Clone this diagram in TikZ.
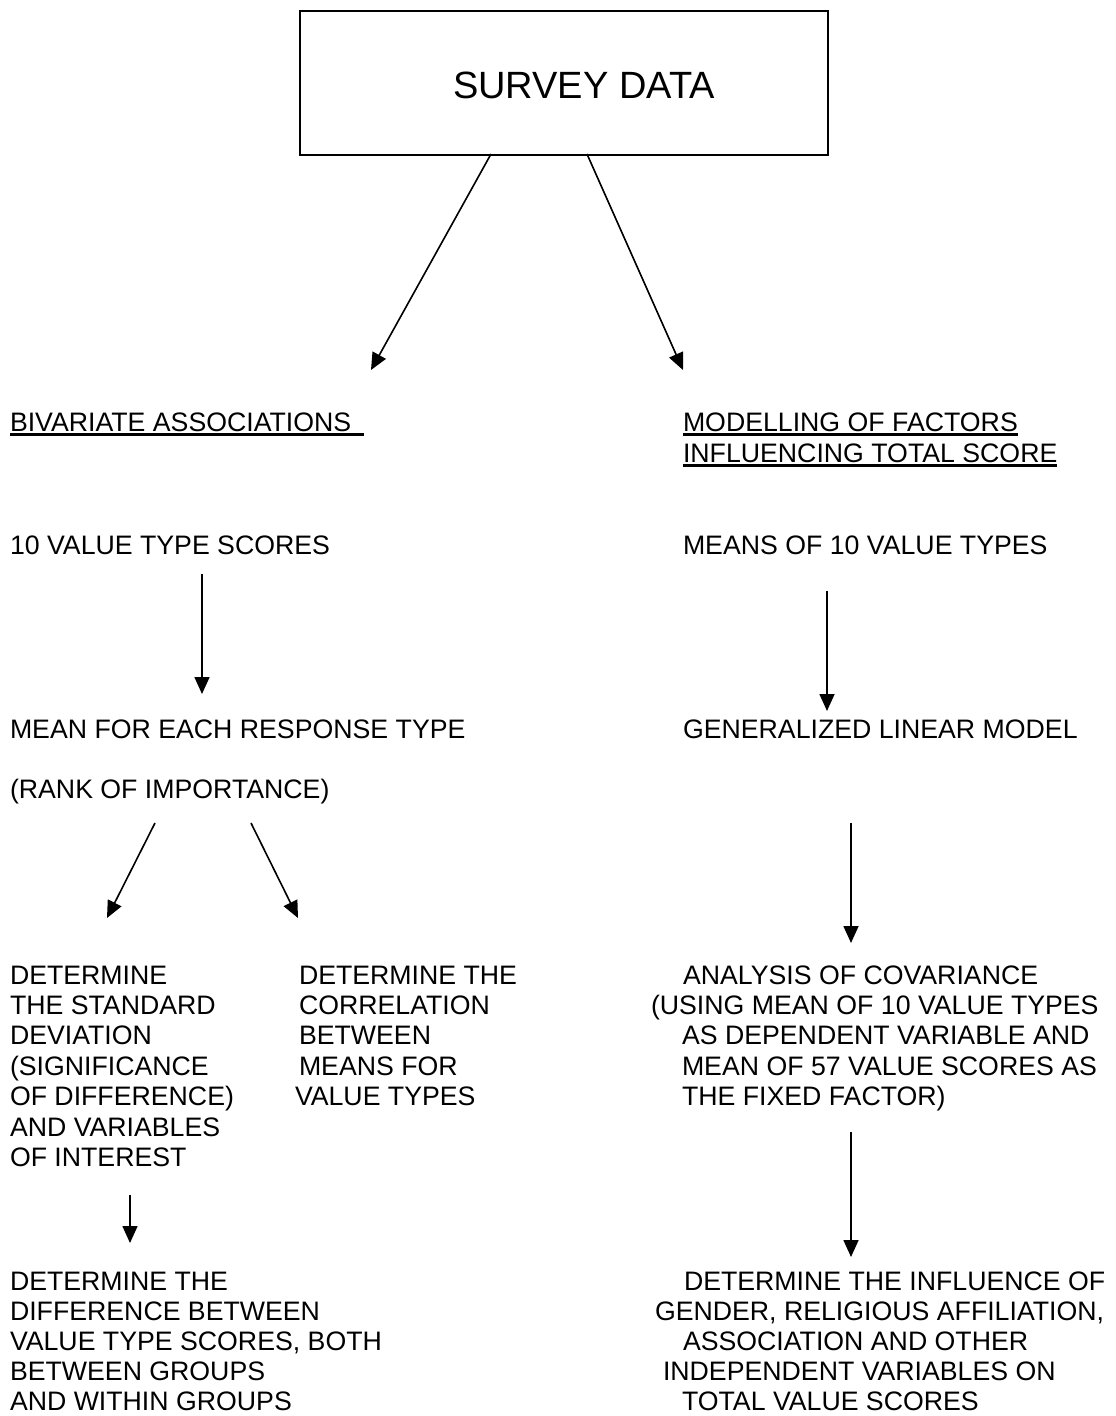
\documentclass[tikz,border=0pt]{standalone}
\usepackage{fontspec}
\setmainfont{Liberation Sans}
\usetikzlibrary{arrows.meta}
\begin{document}
\begin{tikzpicture}[x=1pt,y=-1pt,
  txt/.style={anchor=base west,inner sep=0pt,outer sep=0pt,font=\fontsize{26.7}{30.3}\selectfont},
  bigtxt/.style={anchor=base west,inner sep=0pt,outer sep=0pt,font=\fontsize{38}{42}\selectfont},
  arr/.style={line width=1.6pt,-{Triangle[length=17pt,width=15pt]}},
  uline/.style={line width=2.3pt}]
\useasboundingbox (0,0) rectangle (1116,1416);
\fill[white] (0,0) rectangle (1116,1416);
% top box
\node[draw,line width=1.6pt,minimum width=528pt,minimum height=144pt,anchor=north west,inner sep=0pt] (box) at (299,10) {};
\node[bigtxt] (survey) at (453,98) {SURVEY DATA};
% headings
\node[txt] (bv) at (10,431) {BIVARIATE ASSOCIATIONS\kern13pt};
\node[txt] (mod1) at (683,431) {MODELLING OF FACTORS};
\node[txt] (mod2) at (683,462) {INFLUENCING TOTAL SCORE};
\draw[uline] ([yshift=-3.5pt]bv.base west) -- ([yshift=-3.5pt]bv.base east);
\draw[uline] ([yshift=-3.5pt]mod1.base west) -- ([yshift=-3.5pt]mod1.base east);
\draw[uline] ([yshift=-3.5pt]mod2.base west) -- ([yshift=-3.5pt]mod2.base east);
% left column
\node[txt] (vts) at (10,554) {10 VALUE TYPE SCORES};
\node[txt] (mean) at (10,738) {MEAN FOR EACH RESPONSE TYPE};
\node[txt] (rank) at (10,798) {(RANK OF IMPORTANCE)};
% right column
\node[txt] (mvt) at (683,554) {MEANS OF 10 VALUE TYPES};
\node[txt] (glm) at (683,738) {GENERALIZED LINEAR MODEL};
% left block
\node[txt] (sd1) at (10,984) {DETERMINE};
\node[txt] (sd2) at (10,1014.4) {THE STANDARD};
\node[txt] (sd3) at (10,1044.8) {DEVIATION};
\node[txt] (sd4) at (10,1075.2) {(SIGNIFICANCE};
\node[txt] (sd5) at (10,1105.6) {OF DIFFERENCE)};
\node[txt] (sd6) at (10,1136) {AND VARIABLES};
\node[txt] (sd7) at (10,1166.4) {OF INTEREST};
% middle block
\node[txt] (co1) at (299,984) {DETERMINE THE};
\node[txt] (co2) at (299,1014.4) {CORRELATION};
\node[txt] (co3) at (299,1044.8) {BETWEEN};
\node[txt] (co4) at (299,1075.2) {MEANS FOR};
\node[txt] (co5) at (295,1105.6) {VALUE TYPES};
% right block
\node[txt] (an1) at (683,984) {ANALYSIS OF COVARIANCE};
\node[txt] (an2) at (651,1014.4) {(USING MEAN OF 10 VALUE TYPES};
\node[txt] (an3) at (682,1044.8) {AS DEPENDENT VARIABLE AND};
\node[txt] (an4) at (682,1075.2) {MEAN OF 57 VALUE SCORES AS};
\node[txt] (an5) at (682,1105.6) {THE FIXED FACTOR)};
% bottom left
\node[txt] (df1) at (10,1290) {DETERMINE THE};
\node[txt] (df2) at (10,1320) {DIFFERENCE BETWEEN};
\node[txt] (df3) at (10,1350) {VALUE TYPE SCORES, BOTH};
\node[txt] (df4) at (10,1380) {BETWEEN GROUPS};
\node[txt] (df5) at (10,1410) {AND WITHIN GROUPS};
% bottom right
\node[txt] (in1) at (684,1290) {DETERMINE THE INFLUENCE OF};
\node[txt] (in2) at (655,1320) {GENDER, RELIGIOUS AFFILIATION,};
\node[txt] (in3) at (683,1350) {ASSOCIATION AND OTHER};
\node[txt] (in4) at (663,1380) {INDEPENDENT VARIABLES ON};
\node[txt] (in5) at (682,1410) {TOTAL VALUE SCORES};
% arrow end points
\coordinate (a1s) at (491,154);  \coordinate (a1e) at (371,370);
\coordinate (a2s) at (587,154);  \coordinate (a2e) at (683,370);
\coordinate (a3s) at (202,574);  \coordinate (a3e) at (202,694);
\coordinate (a4s) at (827,591);  \coordinate (a4e) at (827,711);
\coordinate (a5s) at (155,823);  \coordinate (a5e) at (107,918);
\coordinate (a6s) at (251,823);  \coordinate (a6e) at (298,918);
\coordinate (a7s) at (851,823);  \coordinate (a7e) at (851,943);
\coordinate (a8s) at (130,1195); \coordinate (a8e) at (130,1243);
\coordinate (a9s) at (851,1132); \coordinate (a9e) at (851,1257);
\foreach \k in {1,...,9} \draw[arr] (a\k s) -- (a\k e);
\end{tikzpicture}
\end{document}
